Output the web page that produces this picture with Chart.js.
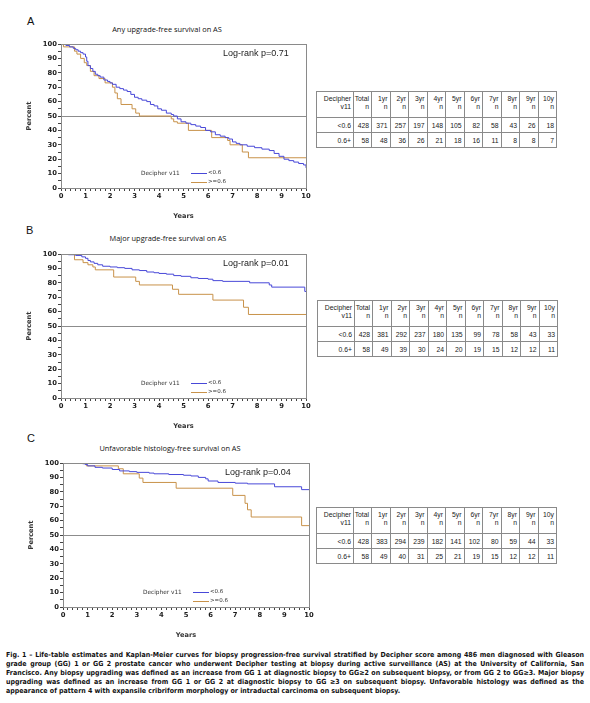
<!DOCTYPE html>
<html lang="en">
<head>
<meta charset="UTF-8">
<title>Decipher biopsy progression-free survival</title>
<script src="https://cdn.jsdelivr.net/npm/chart.js"></script>
<style>
    body {
        margin: 0;
        width: 590px;
        height: 703px;
        position: relative;
        overflow: hidden;
        background: #fff;
        font-family: "Liberation Sans", Arial, sans-serif;
        color: #222;
    }
    .letter {
        position: absolute;
        font: 11px/11px "Liberation Sans", Arial, sans-serif;
        color: #111;
    }
    .ptitle {
        position: absolute;
        font: 7.4px/9px "Open Sans", sans-serif;
        color: #111;
        white-space: nowrap;
        transform: translateX(-50%);
    }
    .box { position: absolute; }
    table.risk {
        position: absolute;
        border-collapse: collapse;
        table-layout: fixed;
        font: 6.8px "Liberation Sans", Arial, sans-serif;
        color: #1a1a1a;
    }
    table.risk td {
        border: 1px solid #8a8a8a;
        text-align: right;
        padding: 0 2px 0 0;
        overflow: hidden;
        white-space: nowrap;
    }
    table.risk tr.head td { height: 22px; vertical-align: top; line-height: 8px; padding-top: 3px; }
    table.risk tr.row td { height: 14px; }
    .caption {
        position: absolute;
        left: 6px;
        top: 651px;
        width: 578px;
        font: bold 7px/9px "Liberation Sans Narrow", "DejaVu Sans Condensed", sans-serif;
        color: #111;
    }
    .caption div { text-align: justify; text-align-last: justify; }
    .caption div.last { text-align-last: left; }
</style>
</head>
<body>

<div class="letter" style="left:27px;top:16px">A</div>
<div class="ptitle" style="left:167px;top:25px">Any upgrade-free survival on AS</div>
<div class="box" style="left:22px;top:38px;width:290px;height:182px"><canvas id="chartA"></canvas></div>

<div class="letter" style="left:26px;top:225px">B</div>
<div class="ptitle" style="left:168px;top:234px">Major upgrade-free survival on AS</div>
<div class="box" style="left:22px;top:248px;width:290px;height:182px"><canvas id="chartB"></canvas></div>

<div class="letter" style="left:27px;top:433px">C</div>
<div class="ptitle" style="left:170px;top:444px">Unfavorable histology-free survival on AS</div>
<div class="box" style="left:24px;top:457px;width:291px;height:182px"><canvas id="chartC"></canvas></div>

<table class="risk" id="tableA" style="left:316px;top:91px"></table>
<table class="risk" id="tableB" style="left:317px;top:300px"></table>
<table class="risk" id="tableC" style="left:316px;top:507px"></table>

<div class="caption">
    <div>Fig. 1 – Life-table estimates and Kaplan-Meier curves for biopsy progression-free survival stratified by Decipher score among 486 men diagnosed with Gleason</div>
    <div>grade group (GG) 1 or GG 2 prostate cancer who underwent Decipher testing at biopsy during active surveillance (AS) at the University of California, San</div>
    <div>Francisco. Any biopsy upgrading was defined as an increase from GG 1 at diagnostic biopsy to GG≥2 on subsequent biopsy, or from GG 2 to GG≥3. Major biopsy</div>
    <div>upgrading was defined as an increase from GG 1 or GG 2 at diagnostic biopsy to GG ≥3 on subsequent biopsy. Unfavorable histology was defined as the</div>
    <div class="last">appearance of pattern 4 with expansile cribriform morphology or intraductal carcinoma on subsequent biopsy.</div>
</div>

<script>
    // groups
    const groupTitle = 'Decipher v11';
    const groupLabels = ['<0.6', '>=0.6'];

    // A: any upgrade-free survival (years, percent)
    const aLowX = [0, 0.2, 0.35, 0.5, 0.6, 0.7, 0.8, 0.9, 1.0, 1.05, 1.1, 1.2, 1.3, 1.4, 1.5, 1.6, 1.75, 1.9, 2.0, 2.1, 2.25, 2.4, 2.55, 2.7, 2.85, 3.0, 3.15, 3.3, 3.5, 3.65, 3.8, 3.95, 4.1, 4.3, 4.5, 4.6, 4.75, 4.9, 5.1, 5.3, 5.5, 5.7, 5.9, 6.1, 6.3, 6.5, 6.7, 6.85, 7.0, 7.15, 7.3, 7.6, 7.9, 8.2, 8.5, 8.7, 8.9, 9.1, 9.3, 9.5, 9.7, 9.9, 10];
    const aLowY = [100, 99, 98, 97, 96, 95, 94, 93, 91, 88, 85, 83, 81, 79, 78, 77, 75, 74, 73, 72, 70, 69, 68, 67, 65, 63, 62, 61, 60, 58, 57, 55, 54, 52, 51, 50, 48, 46, 45, 44, 43, 42, 40, 39, 37, 36, 35, 34, 32, 31, 30, 29, 28, 27, 26, 24, 22, 20, 19, 18, 17, 16, 14];
    const aHighX = [0, 0.1, 0.55, 0.65, 0.8, 0.95, 1.05, 1.2, 1.35, 1.55, 1.8, 2.1, 2.2, 2.3, 2.45, 2.9, 3.05, 3.2, 4.5, 4.6, 4.75, 5.2, 6.15, 6.8, 6.9, 7.4, 7.65, 10];
    const aHighY = [100, 98, 95, 93, 90, 87, 85, 81, 78, 76, 73, 70, 66, 62, 58, 55, 52, 50, 48, 46, 45, 40, 35, 33, 30, 25, 21, 21];

    // B: major upgrade-free survival
    const bLowX = [0, 0.3, 0.6, 0.85, 1.0, 1.1, 1.2, 1.35, 1.5, 1.7, 2.0, 2.3, 2.6, 2.9, 3.2, 3.5, 3.8, 4.0, 4.3, 4.6, 4.9, 5.3, 5.6, 6.0, 6.2, 6.6, 7.7, 8.5, 8.6, 9.95, 10];
    const bLowY = [100, 99.5, 99, 98, 97, 95.5, 94.5, 93.5, 92.5, 91.5, 91, 90.5, 90, 89, 88.5, 87.5, 87, 86.5, 86, 85, 84.5, 83.5, 83, 82.5, 81.5, 81, 80, 78.5, 77, 74, 74];
    const bHighX = [0, 0.55, 0.9, 1.1, 1.3, 1.4, 2.15, 3.05, 3.2, 4.55, 4.8, 6.2, 7.45, 7.65, 10];
    const bHighY = [100, 96, 94, 92.5, 91, 89, 84, 81, 78.5, 75.5, 72, 68, 63, 58, 58];

    // C: unfavorable histology-free survival
    const cLowX = [0, 0.8, 0.9, 1.0, 1.3, 1.6, 2.0, 2.3, 2.7, 3.0, 3.5, 3.7, 4.3, 4.9, 5.2, 5.5, 5.8, 5.9, 6.3, 7.0, 7.5, 8.6, 9.7, 10];
    const cLowY = [100, 99.5, 99, 98, 97, 96.5, 95.5, 94.5, 94, 93.5, 93, 92.5, 92, 91.5, 91, 90, 89, 87.5, 86.5, 86, 85.5, 83.5, 81.5, 81.5];
    const cHighX = [0, 0.95, 2.25, 2.45, 3.1, 3.25, 4.6, 6.9, 7.4, 7.5, 7.65, 9.7, 10];
    const cHighY = [100, 98, 96, 92.5, 89.5, 86.5, 82.5, 77.5, 72, 67.5, 62.5, 56.5, 56.5];

    const pValues = ['Log-rank p=0.71', 'Log-rank p=0.01', 'Log-rank p=0.04'];

    // numbers at risk
    const riskHeaders = ['Total', '1yr', '2yr', '3yr', '4yr', '5yr', '6yr', '7yr', '8yr', '9yr', '10y'];
    const riskRowLabels = ['<0.6', '0.6+'];
    const riskALow = [428, 371, 257, 197, 148, 105, 82, 58, 43, 26, 18];
    const riskAHigh = [58, 48, 36, 26, 21, 18, 16, 11, 8, 8, 7];
    const riskBLow = [428, 381, 292, 237, 180, 135, 99, 78, 58, 43, 33];
    const riskBHigh = [58, 49, 39, 30, 24, 20, 19, 15, 12, 12, 11];
    const riskCLow = [428, 383, 294, 239, 182, 141, 102, 80, 59, 44, 33];
    const riskCHigh = [58, 49, 40, 31, 25, 21, 19, 15, 12, 12, 11];

    const BLUE = '#4848d8';
    const TAN = '#c8924a';

    // frame, 50% line, p-value text and the in-plot legend
    const kmDecor = {
        id: 'kmDecor',
        beforeDatasetsDraw(chart) {
            const {ctx, chartArea: a, scales} = chart;
            const y50 = Math.round(scales.y.getPixelForValue(50)) + 0.5;
            ctx.save();
            ctx.strokeStyle = '#8c8c8c';
            ctx.lineWidth = 1;
            ctx.beginPath();
            ctx.moveTo(a.left, y50);
            ctx.lineTo(a.right, y50);
            ctx.stroke();
            ctx.restore();
        },
        afterDatasetsDraw(chart, args, opts) {
            const {ctx, chartArea: a} = chart;
            ctx.save();
            ctx.strokeStyle = '#8a8a8a';
            ctx.lineWidth = 1;
            ctx.strokeRect(Math.round(a.left) + 0.5, Math.round(a.top) + 0.5,
                Math.round(a.right - a.left), Math.round(a.bottom - a.top));

            ctx.fillStyle = '#222';
            ctx.font = '9px "Liberation Sans", Arial, sans-serif';
            ctx.textBaseline = 'middle';
            ctx.fillText(opts.pText, a.left + 162, a.top + 10);

            ctx.font = '5.8px "DejaVu Sans", sans-serif';
            ctx.fillStyle = '#333';
            ctx.fillText(groupTitle, a.left + 80, a.top + 129);
            chart.data.datasets.forEach((ds, i) => {
                const ly = a.top + 129 + i * 9;
                ctx.strokeStyle = ds.borderColor;
                ctx.beginPath();
                ctx.moveTo(a.left + 130, ly + 0.5);
                ctx.lineTo(a.left + 146, ly + 0.5);
                ctx.stroke();
                ctx.fillStyle = '#333';
                ctx.font = '5.5px "DejaVu Sans", sans-serif';
                ctx.fillText(ds.label, a.left + 147, ly);
            });
            ctx.restore();
        }
    };

    const near = v => Math.abs(v - Math.round(v)) < 1e-6;

    function makeChart(id, lowX, lowY, highX, highY, pText) {
        const tickFont = {family: 'DejaVu Sans', size: 6.8, weight: 'bold'};
        const titleFont = {family: 'DejaVu Sans', size: 6.6, weight: 'bold'};
        return new Chart(document.getElementById(id), {
            type: 'line',
            data: {
                datasets: [
                    {
                        label: groupLabels[0],
                        data: lowX.map((x, i) => ({x: x, y: lowY[i]})),
                        borderColor: BLUE,
                        borderWidth: 1,
                        pointRadius: 0,
                        stepped: true,
                        fill: false
                    },
                    {
                        label: groupLabels[1],
                        data: highX.map((x, i) => ({x: x, y: highY[i]})),
                        borderColor: TAN,
                        borderWidth: 1,
                        pointRadius: 0,
                        stepped: true,
                        fill: false
                    }
                ]
            },
            options: {
                responsive: true,
                maintainAspectRatio: false,
                animation: false,
                layout: {padding: {top: 6, right: 6, left: 0, bottom: 0}},
                plugins: {
                    legend: {display: false},
                    tooltip: {enabled: false},
                    kmDecor: {pText: pText}
                },
                scales: {
                    x: {
                        type: 'linear',
                        min: 0,
                        max: 10,
                        border: {display: false},
                        grid: {drawOnChartArea: false, tickLength: 3, color: '#444'},
                        ticks: {
                            stepSize: 0.2,
                            autoSkip: false,
                            maxRotation: 0,
                            padding: 1,
                            color: '#1a1a1a',
                            font: tickFont,
                            callback: v => near(v) ? String(Math.round(v)) : ''
                        },
                        title: {display: true, text: 'Years', color: '#333', font: titleFont, padding: {top: 4, bottom: 0}},
                        afterFit(s) {
                            s.height = 32;
                            s.paddingLeft = 0;
                            s.paddingRight = 0;
                        }
                    },
                    y: {
                        min: 0,
                        max: 100,
                        border: {display: false},
                        grid: {drawOnChartArea: false, tickLength: 3, color: '#444'},
                        ticks: {
                            stepSize: 5,
                            autoSkip: false,
                            padding: 1,
                            color: '#1a1a1a',
                            font: tickFont,
                            callback: v => v % 10 === 0 ? String(v) : ''
                        },
                        title: {display: true, text: 'Percent', color: '#333', font: titleFont, padding: {top: 3, bottom: 0}},
                        afterFit(s) {
                            s.width = 39;
                            s.paddingTop = 0;
                            s.paddingBottom = 0;
                        }
                    }
                }
            },
            plugins: [kmDecor]
        });
    }

    function fillTable(id, low, high) {
        const t = document.getElementById(id);
        let html = '<colgroup><col style="width:37px"><col style="width:18px">';
        for (let i = 1; i < riskHeaders.length; i++) html += '<col style="width:18.5px">';
        html += '</colgroup>';
        html += '<tr class="head"><td>Decipher<br>v11</td>' +
            riskHeaders.map(h => '<td>' + h + '<br>n</td>').join('') + '</tr>';
        [low, high].forEach((row, r) => {
            html += '<tr class="row"><td>' + riskRowLabels[r].replace('<', '&lt;') + '</td>' +
                row.map(v => '<td>' + v + '</td>').join('') + '</tr>';
        });
        t.innerHTML = html;
    }

    makeChart('chartA', aLowX, aLowY, aHighX, aHighY, pValues[0]);
    makeChart('chartB', bLowX, bLowY, bHighX, bHighY, pValues[1]);
    makeChart('chartC', cLowX, cLowY, cHighX, cHighY, pValues[2]);

    fillTable('tableA', riskALow, riskAHigh);
    fillTable('tableB', riskBLow, riskBHigh);
    fillTable('tableC', riskCLow, riskCHigh);
</script>
</body>
</html>
